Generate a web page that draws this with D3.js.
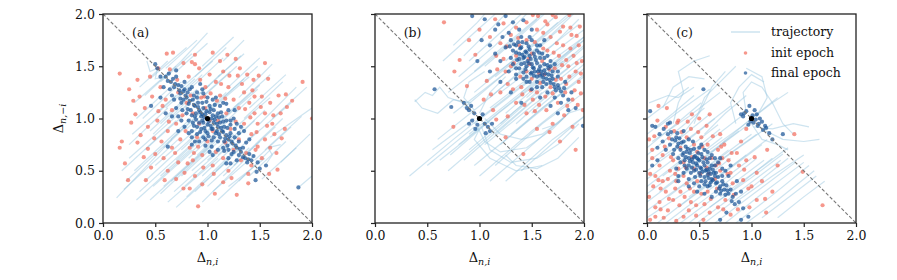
<!DOCTYPE html>
<html>
<head>
<meta charset="utf-8">
<script src="https://cdn.jsdelivr.net/npm/d3@7/dist/d3.min.js"></script>
<style>
body { margin: 0; background: #fff; }
text { font-family: "DejaVu Serif", serif; fill: #111; }
</style>
</head>
<body>
<script>
//panel names and tick labels
var panelNames = ["(a)", "(b)", "(c)"];
var tickVals = [0, 0.5, 1.0, 1.5, 2.0];
var legendNames = ["trajectory", "init epoch", "final epoch"];

//panel (a) - init epoch points
var initA = [[0.16,1.43],[0.25,1.28],[0.33,1.37],[0.61,1.62],[0.67,1.63],[0.77,1.53],[0.85,1.54],[0.88,1.52],[1.05,1.63],[1.27,1.57],[1.31,1.48],[1.55,1.53],[1.91,1.35],[1.75,1.23],[1.76,1.11],[1.74,0.90],[1.64,0.85],[1.67,0.51],[2.0,1.0],[0.16,0.72],[0.18,0.78],[0.27,0.96],[0.24,0.41],[0.36,0.84],[0.41,0.41],[0.91,0.16],[1.28,0.27],[0.77,0.33],[0.95,0.37],[1.15,0.39],[1.39,0.38],[1.48,0.73],[1.52,1.21],[1.44,1.37],[0.40,1.10],[0.47,1.21],[0.35,1.21],[0.31,1.04],[0.43,0.92],[0.52,0.98],[0.55,1.30],[0.60,1.18],[0.66,1.08],[0.72,1.25],[0.70,0.95],[0.74,0.80],[0.66,0.72],[0.58,0.62],[0.50,0.66],[0.46,0.53],[0.62,0.50],[0.72,0.58],[0.78,0.48],[0.86,0.60],[0.83,0.72],[0.90,0.82],[0.92,0.95],[0.86,1.05],[0.80,1.15],[0.94,1.20],[0.98,1.30],[1.02,1.42],[1.08,1.35],[1.12,1.22],[1.15,1.45],[1.20,1.30],[1.25,1.18],[1.30,1.10],[1.35,1.25],[1.40,1.15],[1.45,1.05],[1.48,0.95],[1.55,1.05],[1.60,1.15],[1.62,0.95],[1.55,0.80],[1.42,0.85],[1.35,0.95],[1.30,0.80],[1.22,0.90],[1.18,1.05],[1.10,0.98],[1.05,0.88],[1.00,0.78],[1.08,0.68],[1.15,0.62],[1.25,0.70],[1.32,0.60],[1.42,0.55],[1.52,0.62],[1.20,0.50],[1.05,0.55],[0.95,0.65],[0.88,0.45],[0.70,0.42],[0.56,0.78],[0.62,0.88],[1.68,1.22],[1.70,1.05],[1.58,1.38],[0.82,1.40],[0.92,1.48],[1.38,1.42],[1.12,1.55],[0.45,1.40],[0.53,1.48],[1.46,0.70],[1.60,0.72],[0.98,1.10],[1.02,0.98],
  [0.57,1.12],[0.63,0.97],[0.71,1.37],[0.79,0.88],[0.84,1.22],[0.87,0.67],[0.93,1.37],[0.96,0.53],[1.03,1.24],[1.06,0.47],[1.13,1.33],[1.17,0.77],[1.21,1.41],[1.23,0.43],[1.27,0.97],[1.33,1.33],[1.37,0.67],[1.41,1.01],[1.43,1.27],[1.47,0.87],[1.51,1.11],[1.57,0.93],[1.63,1.03],[1.66,0.67],[1.71,0.81],[0.39,0.63],[0.33,0.77],[0.49,0.81],[0.53,1.07],[0.59,0.41],[0.69,0.67],[0.76,1.03],[0.81,0.57],[0.91,0.73],[0.97,1.21],[1.09,1.17],[1.17,1.19],[1.29,1.41],[1.36,1.09],[1.45,1.21],[0.64,1.47],[0.88,1.61],[1.19,1.61],[1.49,1.41],[1.81,1.17],[0.43,0.71],[0.21,0.57],[0.29,1.17],[1.59,0.47],[1.39,0.47],[1.07,0.28],[0.83,0.33]];

//panel (a) - final epoch points
var finalA = [[0.50,1.52],[0.52,1.48],[0.70,1.46],[0.62,1.36],[0.46,1.12],[0.62,0.73],[1.04,0.73],[1.18,0.57],[1.22,0.57],[1.47,0.49],[1.46,0.41],[1.56,0.55],[1.87,0.34],[1.44,0.64],[1.37,0.77],[1.26,1.08],[0.83,1.28],[0.77,1.18],[0.60,1.40],[0.65,1.35],[0.68,1.30],[0.72,1.32],[0.66,1.22],[0.74,1.24],[0.78,1.28],[0.80,1.20],[0.75,1.15],[0.82,1.14],[0.86,1.18],[0.84,1.08],[0.88,1.12],[0.90,1.20],[0.92,1.08],[0.88,1.02],[0.94,1.02],[0.96,1.10],[0.98,1.04],[0.92,0.96],[0.96,0.96],[1.00,1.00],[1.02,1.06],[1.04,1.00],[1.00,0.94],[1.06,0.96],[1.08,1.02],[1.04,0.90],[1.10,0.92],[1.08,0.86],[1.12,0.96],[1.14,0.88],[1.12,0.82],[1.16,0.92],[1.18,0.84],[1.20,0.80],[1.16,0.78],[1.22,0.86],[1.24,0.76],[1.26,0.82],[1.28,0.72],[1.30,0.78],[1.32,0.68],[1.34,0.72],[1.36,0.62],[1.40,0.66],[1.38,0.58],[1.42,0.60],[1.30,0.65],[1.20,0.70],[1.15,0.72],[1.10,0.78],[1.06,0.82],[0.98,0.88],[0.94,0.90],[0.90,0.92],[0.86,0.96],[0.82,0.98],[0.80,1.05],[0.76,1.08],[0.70,1.10],[0.72,1.02],[0.85,0.88],[0.90,0.85],[0.96,0.82],[1.00,0.86],[1.02,1.12],[1.06,1.08],[1.10,1.05],[1.14,1.02],[1.18,0.98],[1.22,0.94],[1.26,0.90],[1.30,0.86],[0.95,1.15],[0.90,1.25],[0.85,1.30],[1.00,1.20],[0.64,1.28],[0.58,1.30],[0.55,1.40],[0.98,0.80],[1.10,0.70],[1.20,0.62],[1.28,0.60],[1.48,0.58],[1.50,0.52],[0.70,1.40],[0.78,1.35],[1.05,0.65],[0.60,1.05],[0.55,1.20],[1.35,0.88],[1.40,0.80],[1.25,1.00],[0.88,0.78],[1.12,1.12],[0.93,1.33],
  [0.97,1.01],[1.01,0.97],[0.99,1.07],[1.03,0.93],[0.95,1.04],[1.07,0.99],[0.93,1.06],[1.09,0.95],[1.05,1.03],[0.91,1.11],[1.13,0.91],[0.87,1.13],[1.15,0.87],[0.83,1.17],[1.17,0.81],[0.79,1.22],[1.21,0.83],[0.77,1.26],[1.23,0.78],[0.73,1.27],[1.27,0.74],[0.69,1.33],[1.31,0.71],[0.97,0.91],[1.03,1.09],[0.89,0.99],[1.11,1.01],[0.93,0.87],[1.07,1.13],[0.85,1.03],[1.15,0.97],[1.01,0.83],[0.99,1.16],[0.81,1.09],[1.19,0.91],[0.87,0.93],[1.13,1.06],[0.95,0.98],[1.05,0.90],[1.09,0.88],[0.91,1.15],[1.19,0.74],[0.81,1.25],[1.25,0.68],[0.75,1.31],[1.34,0.63],[0.67,1.38],[1.39,0.61],[0.63,1.43],[1.11,0.85],[0.89,1.05],[1.04,0.79],[0.96,1.24],[1.16,0.69],[0.74,1.19],[1.23,0.66],[0.85,0.82],
  [0.85,0.75],[0.92,0.78],[1.15,1.15],[1.20,1.08],[0.78,0.92],[0.72,0.88],[1.08,1.20],[0.95,1.28],[1.28,0.95],[0.68,1.18],[0.75,0.98],[1.32,0.92],[1.05,1.18],[0.82,0.86],[0.98,0.74],[1.18,1.14],[0.87,1.22],[1.22,0.98],[0.66,1.02],[1.02,0.68]];

//panel (a) - trajectories
var trajA = [
  [[0.13,0.24],[0.66,0.80]],[[0.22,0.40],[0.78,0.92]],[[0.30,0.50],[0.84,1.00]],[[0.25,0.62],[0.70,1.02]],
  [[0.35,0.30],[0.90,0.80]],[[0.45,0.22],[1.00,0.72]],[[0.55,0.28],[1.05,0.75]],[[0.62,0.20],[1.10,0.62]],
  [[0.70,0.15],[1.20,0.60]],[[0.80,0.25],[1.25,0.68]],[[0.95,0.20],[1.35,0.60]],[[1.05,0.30],[1.45,0.65]],
  [[1.10,0.22],[1.40,0.50]],[[1.20,0.35],[1.55,0.62]],[[1.30,0.40],[1.60,0.70]],[[1.40,0.45],[1.75,0.78]],
  [[1.45,0.60],[1.80,0.92]],[[1.55,0.70],[1.90,1.02]],[[1.60,0.82],[2.00,1.10]],[[1.70,0.58],[1.98,0.85]],
  [[1.50,0.95],[1.85,1.30]],[[1.40,1.10],[1.75,1.42]],[[1.30,1.20],[1.62,1.52]],[[1.20,1.30],[1.50,1.58]],
  [[1.10,1.40],[1.35,1.62]],[[1.15,1.55],[1.35,1.75]],[[0.95,1.50],[1.25,1.78]],[[0.75,1.55],[1.00,1.82]],
  [[0.60,1.48],[0.90,1.75]],[[0.45,1.38],[0.80,1.68]],[[0.35,1.30],[0.62,1.55]],[[0.30,1.15],[0.70,1.50]],
  [[0.38,1.00],[0.75,1.35]],[[0.28,0.85],[0.70,1.22]],[[0.40,0.70],[0.85,1.10]],[[0.50,0.55],[0.95,0.95]],
  [[0.55,0.45],[1.00,0.85]],[[0.65,0.40],[1.10,0.80]],[[0.75,0.45],[1.15,0.82]],[[0.85,0.50],[1.25,0.85]],
  [[0.95,0.45],[1.30,0.78]],[[1.00,0.60],[1.35,0.92]],[[1.10,0.65],[1.45,0.98]],[[1.20,0.75],[1.55,1.08]],
  [[1.25,0.90],[1.60,1.20]],[[1.15,1.00],[1.50,1.32]],[[1.05,1.10],[1.40,1.40]],[[0.95,1.20],[1.28,1.50]],
  [[0.85,1.30],[1.15,1.58]],[[0.70,1.25],[1.05,1.55]],[[0.60,1.10],[0.95,1.42]],[[0.55,0.95],[0.90,1.28]],
  [[0.65,0.80],[1.00,1.12]],[[0.75,0.70],[1.12,1.05]],[[0.90,0.65],[1.25,0.98]],[[0.48,0.85],[0.82,1.18]],
  [[0.42,1.55],[0.45,1.45],[0.52,1.48],[0.50,1.38],[0.60,1.40]],[[1.55,0.55],[1.62,0.65],[1.58,0.72],[1.70,0.75]],
  [[1.87,0.34],[2.00,0.45]],
  [[0.18,0.50],[0.70,0.98]],[[0.20,0.32],[0.72,0.80]],[[0.32,0.22],[0.85,0.70]],[[0.40,0.40],[0.92,0.88]],
  [[0.48,0.35],[0.98,0.80]],[[0.58,0.35],[1.08,0.80]],[[0.68,0.30],[1.15,0.72]],[[0.78,0.35],[1.22,0.75]],
  [[0.88,0.30],[1.30,0.70]],[[1.00,0.35],[1.40,0.72]],[[1.15,0.45],[1.50,0.78]],[[1.25,0.55],[1.65,0.92]],
  [[1.35,0.65],[1.72,1.00]],[[1.40,0.80],[1.80,1.15]],[[1.35,1.00],[1.72,1.35]],[[1.25,1.10],[1.60,1.42]],
  [[1.15,1.20],[1.48,1.50]],[[1.00,1.30],[1.32,1.60]],[[0.88,1.40],[1.18,1.68]],[[0.70,1.45],[1.00,1.72]],
  [[0.55,1.35],[0.85,1.62]],[[0.40,1.22],[0.75,1.55]],[[0.32,1.00],[0.70,1.35]],[[0.45,0.88],[0.85,1.25]],
  [[0.58,0.72],[0.98,1.10]],[[0.70,0.60],[1.10,0.98]],[[0.82,0.62],[1.20,0.98]],[[0.92,0.80],[1.30,1.15]],
  [[1.05,0.85],[1.42,1.20]],[[1.10,0.95],[1.48,1.28]],[[0.98,1.05],[1.35,1.38]],[[0.88,1.15],[1.22,1.45]],
  [[0.78,1.10],[1.12,1.42]],[[0.65,1.00],[1.02,1.32]],[[0.52,1.05],[0.88,1.38]],[[1.52,0.42],[1.85,0.72]],
  [[1.62,1.00],[1.95,1.30]],[[0.25,0.75],[0.62,1.10]],[[1.08,0.50],[1.48,0.88]],[[0.80,0.90],[1.18,1.25]]
];

//panel (b) - init epoch points
var initB = [[0.66,1.92],[1.23,1.91],[1.51,1.99],[1.56,1.98],[1.70,1.99],[1.86,1.99],[1.96,1.88],[1.93,1.79],[0.76,1.45],[0.81,1.56],[0.96,1.61],[0.88,1.31],[1.04,1.18],[1.07,1.36],[1.16,1.60],[1.26,1.69],[0.75,0.92],[1.27,1.02],[1.42,0.66],[1.77,0.78],[1.97,1.24],[1.99,1.08],[1.89,1.18],[1.86,1.40],[1.83,1.56],[1.74,1.72],[1.61,1.82],[1.45,1.75],[1.35,1.87],[1.39,1.40],[1.32,1.28],[1.51,1.18],[1.58,1.34],[1.70,1.24],[1.64,1.08],[1.45,1.05],[1.16,0.99],[1.13,1.08],[1.89,0.92],[1.30,1.50],[1.35,1.60],[1.40,1.30],[1.45,1.45],[1.50,1.62],[1.55,1.25],[1.60,1.55],[1.65,1.65],[1.68,1.30],[1.72,1.48],[1.76,1.60],[1.80,1.70],[1.78,1.38],[1.82,1.25],[1.85,1.50],[1.90,1.60],[1.92,1.45],[1.95,1.70],[1.88,1.80],[1.80,1.88],[1.65,1.90],[1.55,1.85],[1.45,1.92],[1.30,1.80],[1.20,1.72],[1.10,1.78],[1.25,1.45],[1.20,1.25],[1.35,1.15],[1.50,1.38],[1.62,1.42],[1.75,1.15],[1.95,1.35],[1.98,1.55],[1.70,0.95],[1.55,0.90],[1.25,0.82],[1.92,0.70],[0.90,1.75],[1.00,1.85],[1.15,1.95],[1.48,1.52],[1.68,1.78],[1.38,1.70],[1.84,1.12],
  [1.33,1.53],[1.37,1.77],[1.41,1.23],[1.47,1.57],[1.53,1.73],[1.57,1.43],[1.63,1.21],[1.67,1.47],[1.71,1.63],[1.73,1.37],[1.77,1.83],[1.79,1.51],[1.83,1.33],[1.87,1.67],[1.91,1.27],[1.93,1.53],[1.97,1.43],[1.23,1.57],[1.27,1.33],[1.17,1.47],[1.43,1.13],[1.53,1.07],[1.63,1.93],[1.73,1.97],[1.87,1.87],[1.61,1.67],[1.49,1.27],[1.81,1.03],[1.67,0.87],[1.94,1.13],[1.11,1.23],[1.57,1.13]];

//panel (b) - final epoch points
var finalB = [[1.30,1.75],[1.35,1.70],[1.32,1.65],[1.38,1.62],[1.40,1.68],[1.42,1.58],[1.44,1.64],[1.46,1.55],[1.48,1.60],[1.50,1.52],[1.45,1.50],[1.52,1.48],[1.54,1.56],[1.56,1.45],[1.58,1.50],[1.60,1.42],[1.62,1.46],[1.64,1.38],[1.66,1.42],[1.68,1.34],[1.70,1.38],[1.72,1.30],[1.75,1.32],[1.78,1.26],[1.80,1.22],[1.50,1.44],[1.55,1.40],[1.40,1.52],[1.36,1.56],[1.48,1.66],[1.52,1.62],[1.58,1.58],[1.62,1.52],[1.66,1.48],[1.70,1.45],[1.45,1.72],[1.40,1.78],[1.28,1.82],[1.25,1.68],[1.30,1.58],[1.35,1.48],[1.42,1.44],[1.55,1.35],[1.60,1.30],[1.65,1.25],[1.72,1.20],[1.78,1.15],[1.85,1.18],[1.82,1.35],[1.75,1.40],[1.68,1.55],[1.60,1.62],[1.55,1.70],[1.48,1.78],[1.38,1.85],[1.22,1.78],[1.18,1.90],[1.32,1.92],[1.42,1.94],[1.25,1.98],[1.15,1.85],[1.50,1.85],[1.62,1.75],[1.88,1.25],[1.92,1.10],[1.99,0.93],[1.85,1.08],[1.75,1.05],[1.68,1.12],[1.58,1.20],[1.50,1.28],[1.45,1.35],[1.35,1.38],[1.28,1.45],[1.20,1.55],[1.15,1.62],[1.10,1.70],[1.10,1.45],[1.20,1.35],[1.30,1.25],[1.40,1.15],[0.95,1.05],[1.00,1.00],[0.90,1.08],[0.93,0.98],[1.05,0.95],[1.08,0.92],[1.10,0.88],[0.98,0.94],[1.03,1.04],[0.88,1.10],[1.12,0.95],[0.96,0.90],[0.90,0.95],[0.92,1.12],[1.06,0.86],[0.85,1.15],[0.57,1.28],[0.73,1.11],[0.93,1.98],[1.02,1.75],[0.98,1.55],[1.05,1.95],
  [1.47,1.53],[1.51,1.49],[1.49,1.57],[1.53,1.45],[1.43,1.59],[1.57,1.47],[1.41,1.61],[1.61,1.39],[1.45,1.63],[1.63,1.43],[1.39,1.67],[1.67,1.37],[1.37,1.73],[1.71,1.33],[1.33,1.71],[1.73,1.27],[1.55,1.53],[1.59,1.45],[1.44,1.47],[1.52,1.41],[1.47,1.69],[1.65,1.51],[1.57,1.63],[1.69,1.41],[1.35,1.63],[1.41,1.73],[1.76,1.29],[1.61,1.35],[1.53,1.59],[1.49,1.43],[1.43,1.53],[1.58,1.41],[1.64,1.33],[1.29,1.69],[1.81,1.29],[1.38,1.57],
  [1.35,1.42],[1.42,1.38],[1.48,1.35],[1.55,1.30],[1.62,1.58],[1.68,1.50],[1.55,1.65],[1.45,1.40],[1.38,1.48],[1.65,1.60],[1.72,1.52],[1.58,1.70],[1.32,1.52],[1.50,1.75],[1.75,1.45]];

//panel (b) - trajectories
var trajB = [
  [[0.33,0.45],[0.75,0.80],[1.00,1.00]],[[0.50,0.55],[0.95,0.92]],[[0.55,0.70],[0.95,1.00]],[[0.62,0.60],[1.10,0.98]],
  [[0.85,0.60],[1.25,0.95],[1.60,1.25]],[[0.95,0.55],[1.40,0.92],[1.80,1.25]],[[1.00,0.45],[1.50,0.88],[1.90,1.20]],
  [[1.15,0.55],[1.60,0.95],[2.00,1.25]],[[1.25,0.40],[1.70,0.80],[2.00,1.02]],[[1.40,0.50],[1.80,0.85],[2.00,1.02]],
  [[0.80,0.75],[1.30,1.15],[1.80,1.55]],[[0.90,0.85],[1.40,1.25],[1.90,1.62]],[[1.00,1.00],[1.45,1.35],[2.00,1.75]],
  [[0.75,1.05],[1.20,1.40],[1.70,1.78]],[[0.70,1.25],[1.15,1.60],[1.55,1.95]],[[0.80,1.40],[1.15,1.70],[1.45,2.00]],
  [[0.95,1.45],[1.30,1.75],[1.60,2.00]],[[1.05,1.35],[1.45,1.65],[1.85,2.00]],[[1.20,1.25],[1.60,1.55],[2.00,1.85]],
  [[1.10,1.10],[1.55,1.45],[2.00,1.78]],[[1.20,0.95],[1.60,1.30],[2.00,1.60]],[[1.30,0.85],[1.70,1.18],[2.00,1.42]],
  [[1.05,0.75],[1.50,1.12],[1.95,1.45]],[[0.65,1.55],[0.95,1.82],[1.15,2.00]],[[0.75,1.70],[0.98,1.92],[1.05,2.00]],
  [[0.85,1.60],[1.10,1.85],[1.25,2.00]],[[1.25,1.55],[1.55,1.82],[1.75,2.00]],[[1.35,1.40],[1.70,1.70],[1.95,1.95]],
  [[1.45,1.20],[1.80,1.50],[2.00,1.68]],[[1.50,1.05],[1.85,1.35],[2.00,1.48]],
  [[0.38,1.16],[0.48,1.25],[0.55,1.22],[0.62,1.30],[0.70,1.20],[0.85,1.15],[0.95,1.05]],
  [[1.02,0.92],[1.10,0.70],[1.30,0.58],[1.55,0.62],[1.75,0.75],[1.95,0.95]],
  [[0.98,0.92],[1.05,0.78],[1.20,0.68],[1.45,0.72],[1.70,0.90],[1.90,1.10]],
  [[1.05,1.00],[1.20,0.85],[1.40,0.80],[1.60,0.85],[1.80,1.00]],
  [[0.95,1.08],[0.85,1.20],[0.90,1.35],[1.05,1.45]],[[1.00,1.05],[1.10,1.25],[1.25,1.40]],
  [[1.60,0.90],[1.75,0.95],[1.85,1.05],[2.00,1.10]],[[0.70,0.50],[1.05,0.80],[1.45,1.15]],
  [[1.10,0.40],[1.45,0.70],[1.85,1.05]],
  [[0.90,0.70],[1.35,1.08],[1.85,1.48]],[[0.95,0.95],[1.40,1.30],[1.95,1.70]],[[0.85,1.10],[1.30,1.48],[1.80,1.88]],
  [[0.95,1.25],[1.35,1.58],[1.75,1.92]],[[1.10,1.20],[1.50,1.55],[1.95,1.90]],[[1.25,1.05],[1.65,1.40],[2.00,1.70]],
  [[1.35,0.95],[1.72,1.28],[2.00,1.52]],[[1.15,0.85],[1.55,1.20],[1.98,1.55]],[[1.05,1.50],[1.40,1.80],[1.62,2.00]],
  [[1.15,1.40],[1.52,1.70],[1.88,2.00]],[[0.72,0.65],[1.18,1.05],[1.70,1.45]],[[1.40,1.25],[1.75,1.55],[2.00,1.78]],
  [[1.30,1.45],[1.60,1.72],[1.90,2.00]],[[1.55,1.35],[1.85,1.62],[2.00,1.75]],[[0.90,1.55],[1.20,1.82],[1.40,2.00]],
  [[1.20,0.75],[1.60,1.10],[2.00,1.40]],[[0.60,0.80],[1.00,1.12],[1.40,1.45]],
  [[1.25,0.65],[1.35,0.55],[1.55,0.52],[1.75,0.62],[1.95,0.82]],
  [[1.00,0.90],[0.95,0.80],[1.10,0.62],[1.35,0.50],[1.60,0.55]],
  [[0.92,1.15],[0.75,1.18],[0.60,1.05],[0.45,1.10],[0.38,1.18]]
];

//panel (c) - init epoch points
var initC = [[0.11,1.12],[0.19,1.10],[0.43,1.04],[0.50,1.00],[0.60,1.04],[0.29,0.96],[1.41,0.85],[1.49,0.49],[1.68,0.17],[0.05,0.70],[0.06,0.35],[0.08,0.06],[0.35,0.06],[0.54,0.03],[1.14,0.10],[1.05,0.22],[0.92,0.41],[0.86,0.67],[0.90,0.78],[0.70,0.85],[1.05,0.48],[0.02,0.80],[0.05,0.62],[0.08,0.45],[0.12,0.55],[0.15,0.40],[0.18,0.30],[0.12,0.20],[0.20,0.12],[0.25,0.22],[0.22,0.50],[0.25,0.60],[0.28,0.40],[0.32,0.30],[0.30,0.52],[0.35,0.45],[0.38,0.38],[0.36,0.25],[0.42,0.20],[0.40,0.12],[0.45,0.30],[0.48,0.40],[0.52,0.28],[0.55,0.18],[0.60,0.10],[0.58,0.30],[0.62,0.62],[0.66,0.55],[0.68,0.70],[0.72,0.62],[0.74,0.75],[0.78,0.60],[0.80,0.48],[0.82,0.38],[0.75,0.22],[0.68,0.15],[0.80,0.08],[0.88,0.55],[0.95,0.60],[1.00,0.35],[0.98,0.15],[0.32,0.72],[0.38,0.82],[0.45,0.75],[0.42,0.90],[0.30,0.98],[0.18,0.92],[0.15,0.65],[0.10,0.98],[0.26,0.88],[0.52,0.82],[0.58,0.75],[0.48,0.68],[0.55,0.62],[0.35,0.58],[0.20,0.42],[0.45,0.52],[0.65,0.42],[0.70,0.50],[1.10,0.40],[1.20,0.30],[1.25,0.55],[0.08,0.15],[0.02,0.25],[0.28,0.02],[1.15,0.70],[0.95,0.90],[0.16,0.05],
  [0.03,0.47],[0.07,0.83],[0.13,0.33],[0.17,0.73],[0.21,0.23],[0.23,0.63],[0.27,0.47],[0.31,0.17],[0.33,0.87],[0.37,0.53],[0.41,0.33],[0.43,0.63],[0.47,0.17],[0.49,0.87],[0.51,0.47],[0.53,0.73],[0.57,0.53],[0.61,0.23],[0.63,0.83],[0.67,0.33],[0.71,0.73],[0.73,0.13],[0.77,0.47],[0.81,0.67],[0.83,0.27],[0.87,0.13],[0.93,0.51],[0.97,0.33],[1.03,0.63],[0.39,0.97],[0.57,0.93],[0.13,0.13],[0.03,0.03],[0.47,0.07],[0.21,0.81],[0.69,0.57],[0.59,0.47],[0.27,0.33],[0.11,0.41],[1.13,0.23]];

//panel (c) - final epoch points
var finalC = [[0.20,0.85],[0.24,0.80],[0.28,0.82],[0.22,0.75],[0.30,0.76],[0.26,0.70],[0.32,0.70],[0.35,0.78],[0.34,0.65],[0.38,0.68],[0.40,0.62],[0.36,0.60],[0.42,0.70],[0.44,0.58],[0.46,0.64],[0.48,0.55],[0.50,0.60],[0.52,0.52],[0.50,0.48],[0.54,0.58],[0.56,0.50],[0.58,0.46],[0.55,0.44],[0.60,0.52],[0.62,0.42],[0.64,0.48],[0.66,0.38],[0.68,0.44],[0.70,0.35],[0.72,0.40],[0.74,0.32],[0.76,0.36],[0.78,0.28],[0.80,0.32],[0.82,0.25],[0.85,0.28],[0.45,0.50],[0.48,0.62],[0.52,0.66],[0.40,0.55],[0.42,0.48],[0.58,0.58],[0.62,0.55],[0.56,0.40],[0.60,0.36],[0.66,0.30],[0.70,0.28],[0.46,0.44],[0.38,0.52],[0.30,0.62],[0.25,0.66],[0.18,0.70],[0.15,0.78],[0.12,0.85],[0.10,0.72],[0.16,0.90],[0.20,0.95],[0.08,0.92],[0.35,0.88],[0.40,0.80],[0.55,0.70],[0.65,0.62],[0.72,0.52],[0.78,0.45],[0.86,0.40],[0.90,0.30],[0.88,0.20],[0.92,0.14],[0.76,0.10],[0.70,0.03],[0.90,0.03],[0.97,0.06],[0.84,0.18],[0.54,1.28],[0.03,1.07],[0.05,0.93],[0.22,0.96],[0.29,0.86],[0.10,0.60],[0.05,0.55],[0.30,0.45],[0.50,0.35],[0.62,0.25],[0.80,0.55],[1.00,1.00],[0.95,1.07],[1.05,1.04],[1.10,0.97],[1.14,0.91],[1.06,0.93],[1.02,0.96],[0.92,1.02],[0.97,0.94],[1.11,0.89],[1.17,0.86],[0.90,1.04],[1.03,1.08],[1.08,1.00],[1.30,0.85],[0.98,1.12],[1.20,0.80],
  [0.47,0.57],[0.51,0.53],[0.49,0.61],[0.53,0.49],[0.45,0.63],[0.57,0.51],[0.43,0.61],[0.59,0.43],[0.41,0.67],[0.61,0.47],[0.39,0.71],[0.63,0.41],[0.37,0.73],[0.67,0.39],[0.33,0.77],[0.69,0.33],[0.55,0.55],[0.51,0.45],[0.47,0.51],[0.57,0.61],[0.53,0.63],[0.61,0.39],[0.43,0.53],[0.65,0.45],[0.35,0.67],[0.71,0.31],[0.29,0.73],[0.73,0.37],[0.27,0.79],[0.77,0.31],[0.41,0.59],[0.59,0.49],[0.49,0.67],[0.63,0.51],[0.37,0.63],[0.31,0.81],[0.75,0.27],[0.23,0.87],[0.81,0.21],[0.45,0.71],[0.55,0.37],[1.01,1.03],[0.99,0.97],[1.07,0.95],[0.93,1.05],[1.13,0.93],[1.04,0.99],
  [0.30,0.40],[0.35,0.48],[0.40,0.42],[0.45,0.38],[0.52,0.40],[0.58,0.35],[0.62,0.65],[0.68,0.58],[0.70,0.62],[0.58,0.68],[0.50,0.72],[0.44,0.78],[0.36,0.55],[0.32,0.58],[0.75,0.50],[0.65,0.55],[0.28,0.52],[0.40,0.35],[0.48,0.30],[0.55,0.28],[0.66,0.48],[0.72,0.45],[0.60,0.62],[0.52,0.75]];

//panel (c) - trajectories
var trajC = [
  [[0.00,0.05],[0.45,0.35],[0.80,0.62]],[[0.00,0.20],[0.40,0.50],[0.75,0.78]],[[0.00,0.35],[0.35,0.62],[0.70,0.90]],
  [[0.00,0.50],[0.30,0.72],[0.65,1.00]],[[0.00,0.65],[0.28,0.88],[0.55,1.10]],[[0.00,0.85],[0.25,1.05],[0.45,1.22]],
  [[0.00,1.00],[0.20,1.15],[0.40,1.30]],[[0.10,0.00],[0.55,0.35],[0.95,0.65]],[[0.25,0.00],[0.65,0.30],[1.05,0.62]],
  [[0.40,0.00],[0.80,0.30],[1.20,0.62]],[[0.55,0.00],[0.95,0.30],[1.35,0.62]],[[0.75,0.00],[1.10,0.28],[1.50,0.58]],
  [[0.95,0.00],[1.25,0.22],[1.60,0.50]],[[1.10,0.05],[1.40,0.28],[1.62,0.45]],[[0.20,0.25],[0.60,0.55],[1.00,0.85]],
  [[0.30,0.15],[0.70,0.45],[1.10,0.75]],[[0.15,0.45],[0.55,0.75],[0.90,1.02]],[[0.10,0.60],[0.45,0.85],[0.80,1.12]],
  [[0.05,0.78],[0.40,1.02],[0.70,1.25]],[[0.25,0.95],[0.30,1.15],[0.35,1.25],[0.30,1.45],[0.45,1.55],[0.60,1.60]],
  [[0.45,0.95],[0.55,1.20],[0.70,1.35],[0.85,1.50]],
  [[0.95,1.05],[0.92,1.25],[1.00,1.35],[1.10,1.30],[1.20,1.15],[1.30,0.95],[1.40,0.85]],
  [[1.00,0.95],[1.10,0.80],[1.25,0.75],[1.35,0.70]],[[0.85,0.95],[0.80,1.15],[0.88,1.30],[1.00,1.42],[1.12,1.35]],
  [[1.10,0.90],[1.30,0.80],[1.50,0.78],[1.65,0.80]],[[0.60,0.70],[0.90,0.92],[1.20,1.15],[1.35,1.25]],
  [[0.50,0.45],[0.85,0.70],[1.20,0.95]],[[0.70,0.25],[1.05,0.50],[1.35,0.72]],[[0.35,0.35],[0.70,0.60],[1.05,0.85]],
  [[0.02,1.15],[0.20,1.22],[0.30,1.20],[0.45,1.30]],[[0.55,0.85],[0.75,1.05],[0.95,1.22]],
  [[0.85,0.20],[1.20,0.45],[1.50,0.65]],[[1.25,0.05],[1.50,0.25],[1.70,0.40]],
  [[0.00,0.12],[0.42,0.42],[0.78,0.70]],[[0.00,0.28],[0.38,0.56],[0.72,0.82]],[[0.00,0.42],[0.32,0.66],[0.68,0.94]],
  [[0.00,0.58],[0.30,0.80],[0.60,1.04]],[[0.00,0.72],[0.28,0.95],[0.52,1.15]],[[0.18,0.00],[0.60,0.32],[1.00,0.62]],
  [[0.32,0.00],[0.72,0.30],[1.12,0.60]],[[0.48,0.00],[0.88,0.30],[1.28,0.60]],[[0.65,0.00],[1.02,0.28],[1.42,0.58]],
  [[0.85,0.00],[1.18,0.25],[1.55,0.55]],[[0.25,0.40],[0.62,0.68],[0.98,0.95]],[[0.40,0.25],[0.78,0.52],[1.15,0.80]],
  [[0.60,0.15],[0.98,0.42],[1.30,0.66]],[[0.12,0.30],[0.50,0.60],[0.88,0.88]],[[0.08,0.90],[0.35,1.10],[0.60,1.28]],
  [[0.70,0.75],[1.00,1.00],[1.25,1.20]],[[0.30,0.80],[0.50,1.05],[0.62,1.30],[0.75,1.45]],
  [[1.05,1.02],[1.15,1.20],[1.10,1.40],[0.95,1.48]],[[1.02,0.92],[1.20,0.90],[1.40,0.95],[1.55,0.92]],
  [[0.15,1.10],[0.25,1.30],[0.40,1.40],[0.55,1.38]]
];

var initSets = [initA, initB, initC];
var finalSets = [finalA, finalB, finalC];
var trajSets = [trajA, trajB, trajC];

(function(){
    var width = 897, height = 280;
    var size = 209, top = 14;
    var lefts = [103, 375, 647];

    var trajColor = "#9ecae1",
        initColor = "#f26b5b",
        finalColor = "#1b5597";

    var svg = d3.select("body").append("svg")
        .attr("width", width)
        .attr("height", height);

    lefts.forEach(function(left, p){
        var x = d3.scaleLinear().domain([0, 2]).range([left, left + size]);
        var y = d3.scaleLinear().domain([0, 2]).range([top + size, top]);

        var clipId = "clip" + p;
        svg.append("clipPath").attr("id", clipId)
            .append("rect")
            .attr("x", left).attr("y", top)
            .attr("width", size).attr("height", size);

        var g = svg.append("g").attr("clip-path", "url(#" + clipId + ")");

        var line = d3.line()
            .x(function(d){ return x(d[0]); })
            .y(function(d){ return y(d[1]); });

        //trajectories
        g.selectAll(".traj")
            .data(trajSets[p])
            .enter()
            .append("path")
            .attr("class", "traj")
            .attr("d", line)
            .style("fill", "none")
            .style("stroke", trajColor)
            .style("stroke-opacity", 0.5)
            .style("stroke-width", 1.2);

        //init epoch
        g.selectAll(".init")
            .data(initSets[p])
            .enter()
            .append("circle")
            .attr("class", "init")
            .attr("cx", function(d){ return x(d[0]); })
            .attr("cy", function(d){ return y(d[1]); })
            .attr("r", 2.1)
            .style("fill", initColor)
            .style("fill-opacity", 0.7);

        //final epoch
        g.selectAll(".final")
            .data(finalSets[p])
            .enter()
            .append("circle")
            .attr("class", "final")
            .attr("cx", function(d){ return x(d[0]); })
            .attr("cy", function(d){ return y(d[1]); })
            .attr("r", 2.1)
            .style("fill", finalColor)
            .style("fill-opacity", 0.72);

        //x + y = 2 line
        g.append("line")
            .attr("x1", x(0)).attr("y1", y(2))
            .attr("x2", x(2)).attr("y2", y(0))
            .style("stroke", "#777")
            .style("stroke-width", 1.1)
            .style("stroke-dasharray", "3.5,2");

        //reference point
        g.append("circle")
            .attr("cx", x(1)).attr("cy", y(1))
            .attr("r", 2.6)
            .style("fill", "#000");

        //axes
        var xAxis = d3.axisBottom(x)
            .tickValues(tickVals)
            .tickFormat(d3.format(".1f"))
            .tickSizeInner(4).tickSizeOuter(0).tickPadding(4);
        var yAxis = d3.axisLeft(y)
            .tickValues(tickVals)
            .tickFormat(p === 0 ? d3.format(".1f") : "")
            .tickSizeInner(4).tickSizeOuter(0).tickPadding(4);

        var gx = svg.append("g")
            .attr("transform", "translate(0," + (top + size) + ")")
            .call(xAxis);
        var gy = svg.append("g")
            .attr("transform", "translate(" + left + ",0)")
            .call(yAxis);
        [gx, gy].forEach(function(a){
            a.select(".domain").remove();
            a.selectAll(".tick line").style("stroke", "#222").style("stroke-width", 1.2);
            a.selectAll(".tick text")
                .style("font-family", "DejaVu Serif, serif")
                .style("font-size", "12.5px")
                .style("fill", "#111");
        });

        //frame
        svg.append("rect")
            .attr("x", left).attr("y", top)
            .attr("width", size).attr("height", size)
            .style("fill", "none")
            .style("stroke", "#222")
            .style("stroke-width", 1.3);

        //panel label
        svg.append("text")
            .attr("x", x(0.36)).attr("y", y(1.82))
            .attr("text-anchor", "middle")
            .attr("dy", "0.35em")
            .style("font-size", "12.5px")
            .text(panelNames[p]);

        //x label
        var xl = svg.append("text")
            .attr("x", left + size / 2)
            .attr("y", 262)
            .attr("text-anchor", "middle")
            .style("font-size", "13px");
        xl.append("tspan").text("Δ");
        xl.append("tspan").attr("dy", 3).style("font-size", "9.5px").style("font-style", "italic").text("n,i");
    });

    //y label
    var yl = svg.append("text")
        .attr("transform", "translate(63," + (top + size / 2) + ") rotate(-90)")
        .attr("text-anchor", "middle")
        .style("font-size", "13px");
    yl.append("tspan").text("Δ");
    yl.append("tspan").attr("dy", 3).style("font-size", "9.5px").style("font-style", "italic").text("n,−i");

    //legend in panel (c)
    var lg = svg.append("g").attr("transform", "translate(731,32)");
    lg.append("line")
        .attr("x1", 0).attr("x2", 29).attr("y1", 0).attr("y2", 0)
        .style("stroke", trajColor).style("stroke-opacity", 0.6).style("stroke-width", 1.3);
    lg.append("circle").attr("cx", 14.5).attr("cy", 21).attr("r", 1.8)
        .style("fill", initColor).style("fill-opacity", 0.7);
    lg.append("circle").attr("cx", 14.5).attr("cy", 41).attr("r", 1.8)
        .style("fill", finalColor).style("fill-opacity", 0.7);
    lg.selectAll(".lgtext")
        .data(legendNames)
        .enter()
        .append("text")
        .attr("x", 40)
        .attr("y", function(d, i){ return i * 20.5; })
        .attr("dy", "0.35em")
        .style("font-size", "12.5px")
        .text(function(d){ return d; });
})();
</script>
</body>
</html>
